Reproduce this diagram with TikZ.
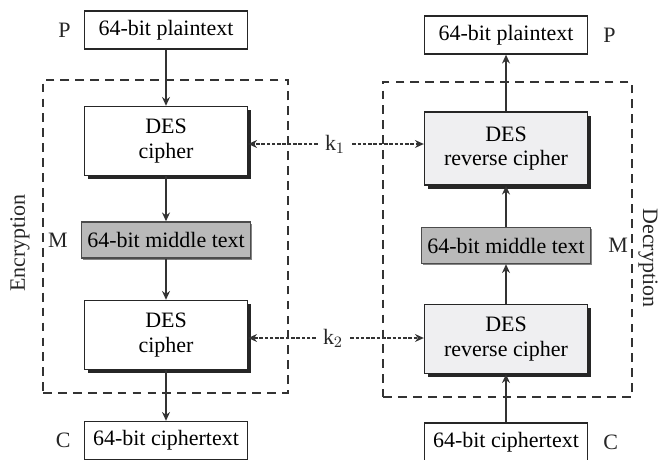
\documentclass[tikz,border=0pt]{standalone}
\usepackage{fontspec}
\setmainfont{Liberation Serif}
\usetikzlibrary{arrows.meta,positioning,shadows}

\begin{document}
\begin{tikzpicture}[
    txt/.style={rectangle, draw=black!85, line width=0.8pt, fill=white, minimum width=3.26cm, minimum height=0.76cm, align=center, font=\fontsize{12.5}{14}\selectfont},
    des/.style={txt, minimum height=1.38cm, drop shadow={shadow xshift=2pt, shadow yshift=-2pt, fill=black!85, opacity=1}},
    rev/.style={des, fill=blue!6!gray!12},
    mid/.style={txt, draw=black!70, fill=gray!55, minimum height=0.72cm, drop shadow={shadow xshift=1pt, shadow yshift=-1pt, fill=black!60, opacity=0.8}},
    lbl/.style={font=\fontsize{12.5}{14}\selectfont, text=black!85},
    group/.style={draw=black!80, line width=1pt, dash pattern=on 5pt off 3.5pt},
    arrow/.style={-{Stealth[length=5pt,width=4.5pt]}, line width=0.8pt, draw=black!80},
    keyarrow/.style={-{Stealth[length=5pt,width=4.5pt]}, line width=0.6pt, draw=black!80, dash pattern=on 2pt off 1pt}
]
\useasboundingbox (0,0) rectangle (13.2,-9.18);

% Encryption side
\node[group, minimum width=4.9cm, minimum height=6.26cm] (enc_box) at (3.31,-4.73) {};
\node[txt] (plain_enc) at (3.32,-0.60) {64-bit plaintext};
\node[des] (des_enc1) at (3.32,-2.82) {DES\\cipher};
\node[mid] (mid_enc) at (3.32,-4.80) {64-bit middle text};
\node[des] (des_enc2) at (3.32,-6.70) {DES\\cipher};
\node[txt] (cipher_enc) at (3.32,-8.81) {64-bit ciphertext};

% Decryption side
\node[group, minimum width=4.98cm, minimum height=6.3cm] (dec_box) at (10.15,-4.79) {};
\node[txt] (plain_dec) at (10.12,-0.70) {64-bit plaintext};
\node[rev, minimum height=1.46cm] (des_dec1) at (10.12,-2.97) {DES\\reverse cipher};
\node[mid] (mid_dec) at (10.12,-4.91) {64-bit middle text};
\node[rev] (des_dec2) at (10.12,-6.78) {DES\\reverse cipher};
\node[txt] (cipher_dec) at (10.12,-8.84) {64-bit ciphertext};

% Labels
\node[lbl, left=0.14cm of plain_enc] (p_enc) {P};
\node[lbl, left=0.14cm of mid_enc] (m_enc) {M};
\node[lbl, left=0.14cm of cipher_enc] (c_enc) {C};
\node[lbl, right=0.18cm of plain_dec] (p_dec) {P};
\node[lbl, right=0.22cm of mid_dec] (m_dec) {M};
\node[lbl, right=0.18cm of cipher_dec] (c_dec) {C};
\node[lbl, rotate=90] (enc_lbl) at (0.40,-4.86) {Encryption};
\node[lbl, rotate=-90] (dec_lbl) at (12.96,-5.16) {Decryption};

% Keys
\node[lbl, inner sep=4pt] (k1) at (6.70,-2.88) {k$_1$};
\node[lbl, inner sep=4pt] (k2) at (6.66,-6.76) {k$_2$};

% Arrows
\draw[arrow] (plain_enc) -- (des_enc1);
\draw[arrow] (des_enc1) -- (mid_enc);
\draw[arrow] (mid_enc) -- (des_enc2);
\draw[arrow] (des_enc2) -- (cipher_enc);
\draw[arrow] (cipher_dec) -- (des_dec2);
\draw[arrow] (des_dec2) -- (mid_dec);
\draw[arrow] (mid_dec) -- (des_dec1);
\draw[arrow] (des_dec1) -- (plain_dec);
\draw[keyarrow] (k1.west) -- (k1.west -| des_enc1.east);
\draw[keyarrow] (k1.east) -- (k1.east -| des_dec1.west);
\draw[keyarrow] (k2.west) -- (k2.west -| des_enc2.east);
\draw[keyarrow] (k2.east) -- (k2.east -| des_dec2.west);

\end{tikzpicture}
\end{document}
